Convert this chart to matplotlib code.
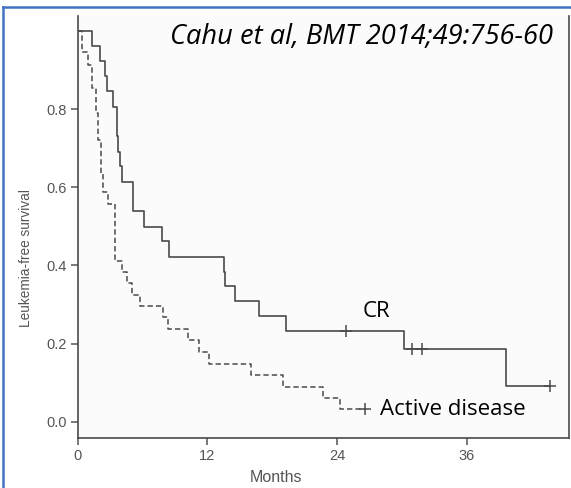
import matplotlib.pyplot as plt
from matplotlib.lines import Line2D

# Kaplan-Meier steps
cr_months = [0, 1.35, 2.1, 2.5, 2.7, 3.24, 3.67, 3.78, 3.9, 4.07, 5.09, 6.14, 7.78, 8.48,
             13.5, 13.6, 14.6, 16.8, 19.3, 30.2, 39.6, 43.7]
cr_surv = [1.0, 0.962, 0.923, 0.885, 0.847, 0.806, 0.73, 0.691, 0.655, 0.614, 0.540, 0.499,
           0.462, 0.422, 0.384, 0.347, 0.309, 0.270, 0.233, 0.185, 0.091, 0.091]
cr_censor_months = [24.8, 30.9, 31.9, 43.7]
cr_censor_surv = [0.233, 0.185, 0.185, 0.091]

ad_months = [0, 0.37, 0.98, 1.29, 1.7, 1.9, 2.13, 2.37, 2.84, 3.45, 4.07, 4.53, 5.0, 5.77,
             7.93, 8.39, 10.19, 11.26, 12.19, 16.0, 19.0, 22.7, 24.3, 26.6]
ad_surv = [1.0, 0.947, 0.913, 0.853, 0.789, 0.721, 0.635, 0.588, 0.557, 0.411, 0.384, 0.354,
           0.324, 0.296, 0.269, 0.236, 0.209, 0.178, 0.148, 0.119, 0.090, 0.060, 0.032, 0.032]
ad_censor_months = [26.6]
ad_censor_surv = [0.032]

x_ticks = [0, 12, 24, 36]
y_ticks = [0.0, 0.2, 0.4, 0.6, 0.8]

line_col = '#4a4a4a'
tick_col = '#555555'
axis_font = 'Liberation Sans'

fig = plt.figure(figsize=(5.71, 4.88), dpi=100)
ax = fig.add_axes([0.136, 0.103, 0.861, 0.864])
ax.set_facecolor('#fbfbfb')

ax.step(cr_months, cr_surv, where='post', color=line_col, lw=1.2)
ax.step(ad_months, ad_surv, where='post', color=line_col, lw=1.1, linestyle=(0, (3.5, 2)))
ax.plot(cr_censor_months, cr_censor_surv, '+', color=line_col, ms=9, mew=1.1)
ax.plot(ad_censor_months, ad_censor_surv, '+', color=line_col, ms=9, mew=1.1)

ax.set_xlim(0, 45.5)
ax.set_ylim(-0.041, 1.038)
ax.set_xticks(x_ticks)
ax.set_yticks(y_ticks)
ax.set_yticklabels(['%.1f' % v for v in y_ticks])
ax.tick_params(colors=tick_col, labelsize=10.5, length=5, width=1.1, direction='out', pad=3)
for lab in ax.get_xticklabels() + ax.get_yticklabels():
    lab.set_family(axis_font)

for side in ['left', 'bottom', 'right']:
    ax.spines[side].set_color(line_col)
    ax.spines[side].set_linewidth(1.2)
ax.spines['top'].set_visible(False)

ax.set_xlabel('Months', fontsize=11.5, color=tick_col, family=axis_font)
ax.xaxis.set_label_coords(0.403, -0.077)
ax.set_ylabel('Leukemia-free survival', fontsize=9.8, color=tick_col, family=axis_font)
ax.yaxis.set_label_coords(-0.091, 0.426)

ax.text(26.4, 0.281, 'CR', fontsize=16, family='Open Sans', va='center', ha='left',
        color='black')
ax.text(28.0, 0.030, 'Active disease', fontsize=16, family='Open Sans', va='center',
        ha='left', color='black')

fig.text(0.968, 0.924, 'Cahu et al, BMT 2014;49:756-60', fontsize=19.6, family='Open Sans',
         style='italic', va='center', ha='right', color='black')

# slide border (top and left)
fig.add_artist(Line2D([0.006, 0.006], [0, 0.986], transform=fig.transFigure,
                      color='#4472c4', lw=1.8))
fig.add_artist(Line2D([0.006, 1.0], [0.986, 0.986], transform=fig.transFigure,
                      color='#4472c4', lw=1.8))

fig.savefig('out.png', dpi=100)
